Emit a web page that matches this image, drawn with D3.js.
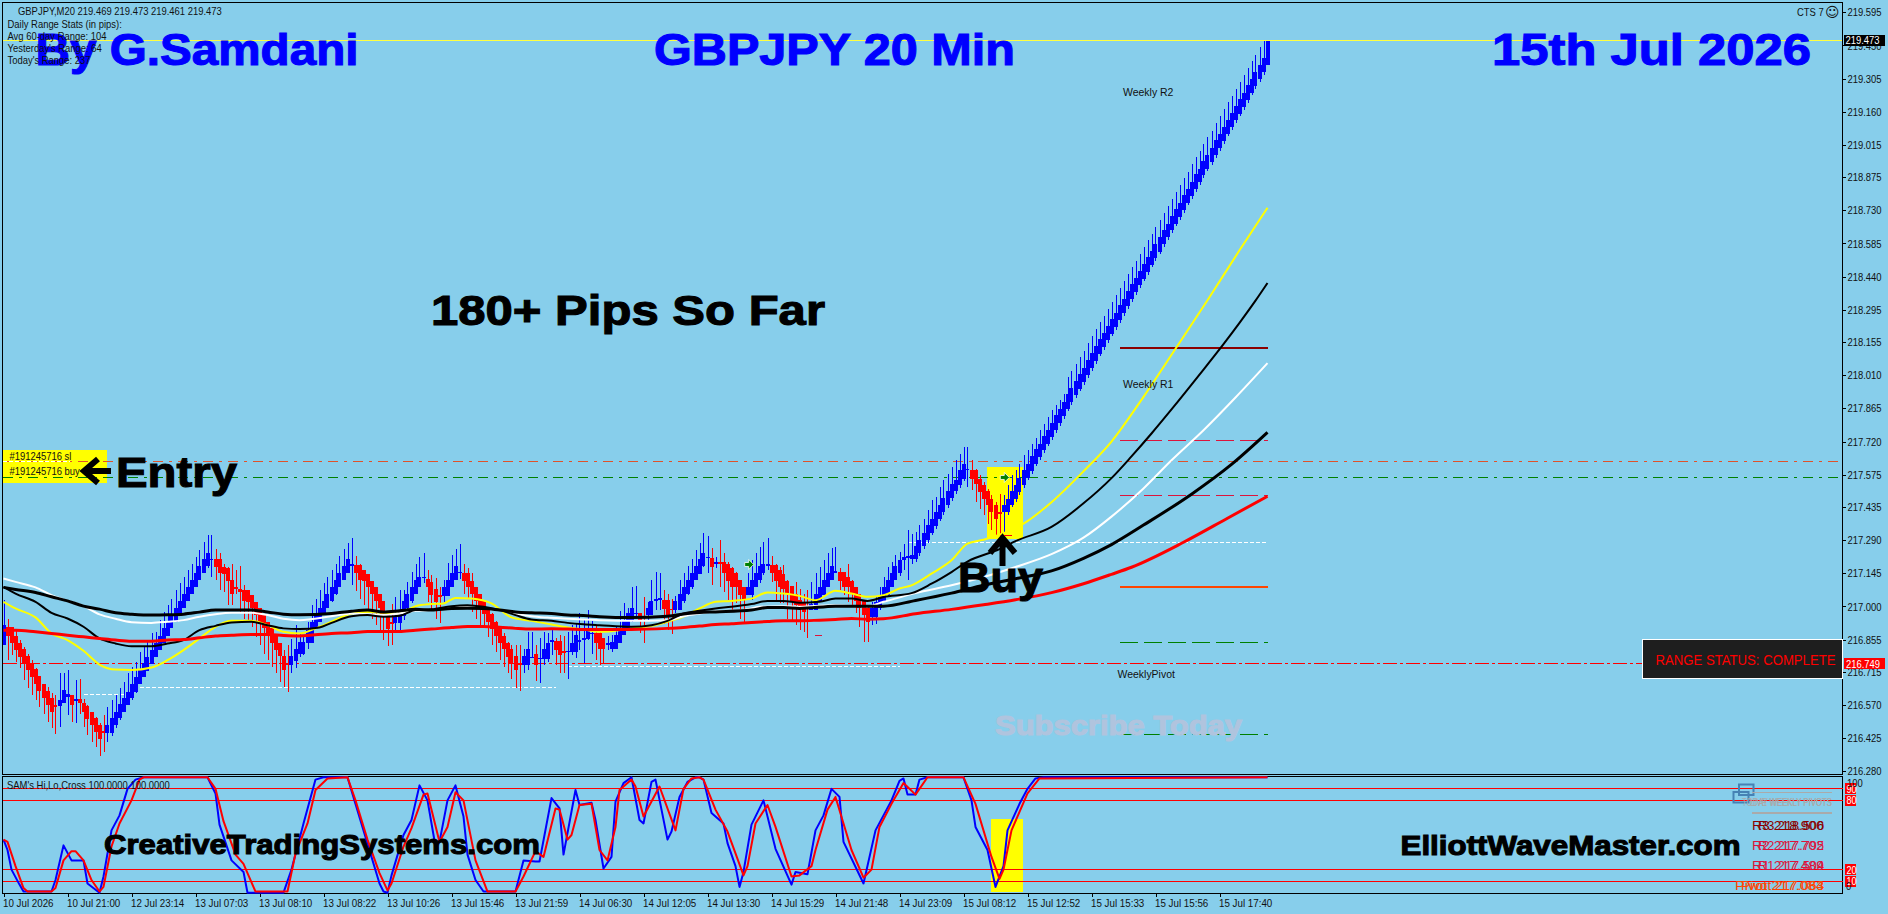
<!DOCTYPE html>
<html lang="en">
<head>
<meta charset="UTF-8">
<title>GBPJPY 20 Min</title>
<script src="https://d3js.org/d3.v7.min.js"></script>
<style>
  html, body { margin: 0; background: #87ceeb; overflow: hidden; }
  svg { display: block; }
  text { font-family: "Liberation Sans", sans-serif; font-size: 11.5px; fill: #111; }
  .big { font-family: "Liberation Sans", Arial, sans-serif; font-weight: bold; stroke-width: 1.1px; }
  .crisp { shape-rendering: crispEdges; }
</style>
</head>
<body>
<svg id="canvas" width="1888" height="914"></svg>
<script>
// 20 minute bars, left to right
const barOpen = [
  216.831,216.911,216.911,216.870,216.841,216.812,216.783,216.751,216.725,216.695,216.663,216.631,216.601,216.569,216.566,216.576,
  216.605,216.612,216.588,216.594,216.580,216.565,216.540,216.511,216.482,216.454,216.449,216.449,216.484,216.511,216.540,216.569,
  216.598,216.624,216.660,216.693,216.717,216.748,216.780,216.809,216.838,216.870,216.904,216.933,216.962,216.991,217.023,217.053,
  217.083,217.115,217.144,217.176,217.202,217.205,217.205,217.173,217.166,217.115,217.083,217.078,217.071,217.071,217.049,217.020,
  216.991,216.962,216.933,216.904,216.874,216.841,216.783,216.751,216.746,216.761,216.794,216.794,216.838,216.838,216.900,216.933,
  216.962,216.991,217.023,217.053,217.083,217.115,217.144,217.177,217.180,217.180,217.161,217.141,217.112,217.083,217.052,217.023,
  216.962,216.933,216.928,216.928,216.958,216.991,217.023,217.052,217.083,217.122,217.118,217.107,217.074,217.049,217.046,217.046,
  217.083,217.115,217.144,217.148,217.148,217.112,217.083,217.053,217.023,216.991,216.965,216.933,216.904,216.871,216.842,216.812,
  216.783,216.751,216.746,216.746,216.773,216.791,216.769,216.772,216.772,216.848,216.848,216.848,216.806,216.801,216.802,216.802,
  216.847,216.853,216.856,216.879,216.882,216.882,216.860,216.831,216.812,216.812,216.842,216.874,216.904,216.940,216.966,216.969,
  216.957,216.962,216.962,217.024,217.030,217.030,217.030,216.989,216.984,216.984,217.023,217.052,217.083,217.115,217.141,217.176,
  217.211,217.211,217.187,217.192,217.192,217.187,217.166,217.144,217.115,217.083,217.049,217.049,217.083,217.115,217.144,217.179,
  217.180,217.180,217.158,217.141,217.112,217.088,217.056,217.027,217.013,216.994,216.984,216.984,217.020,217.049,217.083,217.115,
  217.148,217.151,217.151,217.129,217.112,217.083,217.052,217.023,216.991,216.955,216.955,216.991,217.020,217.049,217.083,217.115,
  217.144,217.204,217.213,217.208,217.208,217.233,217.262,217.291,217.322,217.350,217.383,217.412,217.441,217.473,217.504,217.529,
  217.558,217.596,217.594,217.594,217.558,217.529,217.504,217.470,217.441,217.411,217.412,217.412,217.444,217.470,217.500,217.529,
  217.562,217.591,217.623,217.652,217.682,217.711,217.740,217.769,217.801,217.832,217.864,217.893,217.922,217.951,217.980,218.009,
  218.041,218.072,218.104,218.133,218.162,218.191,218.220,218.249,218.281,218.312,218.342,218.373,218.402,218.431,218.460,218.492,
  218.520,218.549,218.581,218.613,218.642,218.671,218.701,218.730,218.763,218.792,218.823,218.854,218.883,218.912,218.941,218.970,
  219.002,219.031,219.065,219.094,219.123,219.152,219.181,219.212,219.244,219.273,219.303,219.334,219.365
];
const barClose = [
  216.918,216.870,216.838,216.809,216.780,216.748,216.722,216.693,216.660,216.631,216.601,216.569,216.540,216.563,216.591,216.634,
  216.617,216.569,216.595,216.576,216.540,216.509,216.482,216.452,216.420,216.448,216.484,216.511,216.540,216.572,216.602,216.624,
  216.663,216.693,216.726,216.751,216.780,216.809,216.838,216.870,216.904,216.933,216.962,216.991,217.023,217.053,217.083,217.115,
  217.144,217.176,217.205,217.231,217.209,217.173,217.144,217.141,217.112,217.052,217.077,217.064,217.023,217.020,216.991,216.962,
  216.933,216.904,216.874,216.841,216.809,216.783,216.722,216.743,216.783,216.812,216.845,216.845,216.896,216.933,216.962,216.991,
  217.024,217.053,217.086,217.115,217.144,217.176,217.205,217.183,217.144,217.115,217.112,217.083,217.052,217.023,216.991,216.965,
  216.901,216.925,216.958,216.984,217.023,217.053,217.083,217.115,217.129,217.129,217.083,217.049,217.020,217.043,217.086,217.115,
  217.144,217.176,217.151,217.112,217.083,217.052,217.023,216.991,216.965,216.933,216.901,216.871,216.842,216.812,216.780,216.751,
  216.722,216.743,216.783,216.812,216.780,216.746,216.775,216.812,216.842,216.853,216.809,216.787,216.797,216.807,216.842,216.874,
  216.853,216.861,216.896,216.885,216.841,216.812,216.812,216.838,216.845,216.874,216.904,216.940,216.969,216.991,216.972,216.940,
  216.951,216.991,217.024,217.034,217.036,216.988,216.962,216.984,217.023,217.052,217.083,217.115,217.144,217.176,217.205,217.231,
  217.217,217.173,217.193,217.183,217.144,217.112,217.086,217.083,217.049,217.034,217.083,217.115,217.144,217.176,217.183,217.184,
  217.144,217.112,217.083,217.078,217.056,217.023,217.005,216.998,216.976,216.988,217.010,217.052,217.083,217.115,217.144,217.176,
  217.154,217.112,217.083,217.083,217.052,217.023,216.991,216.962,216.933,216.991,217.020,217.049,217.083,217.115,217.144,217.176,
  217.202,217.216,217.219,217.223,217.264,217.291,217.321,217.354,217.383,217.412,217.444,217.473,217.504,217.536,217.553,217.594,
  217.623,217.602,217.558,217.536,217.500,217.470,217.441,217.412,217.383,217.405,217.444,217.470,217.503,217.532,217.562,217.594,
  217.623,217.655,217.686,217.711,217.743,217.772,217.801,217.834,217.864,217.893,217.926,217.954,217.984,218.013,218.041,218.075,
  218.107,218.136,218.166,218.195,218.223,218.254,218.283,218.315,218.344,218.376,218.407,218.434,218.463,218.494,218.526,218.552,
  218.581,218.613,218.645,218.671,218.704,218.734,218.763,218.795,218.824,218.855,218.886,218.912,218.944,218.973,219.003,219.036,
  219.065,219.095,219.126,219.155,219.184,219.215,219.244,219.276,219.305,219.335,219.366,219.394,219.472
];
const barHigh = [
  217.027,216.947,216.904,216.896,216.853,216.824,216.794,216.765,216.729,216.693,216.656,216.649,216.620,216.612,216.707,216.710,
  216.722,216.612,216.678,216.681,216.594,216.569,216.540,216.518,216.491,216.525,216.562,216.591,216.612,216.642,216.671,216.707,
  216.736,216.758,216.802,216.824,216.853,216.882,216.889,216.940,216.976,217.005,217.034,217.071,217.100,217.129,217.158,217.187,
  217.217,217.246,217.282,217.311,217.311,217.249,217.231,217.187,217.173,217.187,217.158,217.176,217.093,217.071,217.027,217.020,
  216.991,216.962,216.933,216.896,216.867,216.831,216.809,216.831,216.856,216.918,216.882,216.874,216.933,217.005,217.034,217.071,
  217.100,217.129,217.158,217.187,217.219,217.249,217.278,217.297,217.219,217.187,217.158,217.129,217.093,217.056,217.027,216.998,
  216.976,217.010,217.042,217.071,217.071,217.107,217.151,217.187,217.217,217.235,217.158,217.136,217.122,217.086,217.115,217.190,
  217.224,217.249,217.272,217.187,217.166,217.144,217.078,217.049,217.027,216.998,216.969,216.937,216.904,216.882,216.845,216.831,
  216.831,216.831,216.816,216.889,216.889,216.831,216.860,216.889,216.882,216.904,216.860,216.874,216.870,216.889,216.918,216.925,
  216.969,216.940,216.984,216.937,216.918,216.889,216.864,216.870,216.874,216.911,216.979,217.013,216.991,217.083,217.088,216.969,
  217.042,217.020,217.115,217.151,217.148,217.071,217.056,217.034,217.045,217.115,217.144,217.176,217.209,217.246,217.278,217.321,
  217.307,217.253,217.217,217.289,217.231,217.195,217.173,217.151,217.086,217.056,217.144,217.202,217.231,217.260,217.282,217.297,
  217.219,217.187,217.173,217.180,217.115,217.078,217.107,217.078,217.056,217.071,217.107,217.144,217.173,217.202,217.231,217.253,
  217.260,217.166,217.151,217.187,217.115,217.086,217.056,217.020,216.998,217.020,217.042,217.086,217.129,217.173,217.195,217.224,
  217.238,217.274,217.332,217.318,217.325,217.354,217.383,217.420,217.463,217.478,217.521,217.551,217.577,217.609,217.638,217.667,
  217.696,217.696,217.638,217.602,217.572,217.543,217.514,217.485,217.456,217.492,217.485,217.529,217.572,217.594,217.623,217.660,
  217.682,217.711,217.737,217.769,217.798,217.827,217.856,217.878,217.900,217.929,218.000,218.030,218.060,218.088,218.116,218.150,
  218.182,218.211,218.242,218.270,218.298,218.330,218.358,218.390,218.420,218.451,218.482,218.510,218.538,218.569,218.601,218.628,
  218.657,218.688,218.720,218.747,218.779,218.809,218.838,218.870,218.899,218.930,218.961,218.987,219.019,219.048,219.078,219.111,
  219.140,219.170,219.201,219.230,219.259,219.290,219.319,219.351,219.380,219.410,219.441,219.470,219.473
];
const barLow = [
  216.831,216.765,216.787,216.758,216.729,216.678,216.642,216.612,216.591,216.562,216.532,216.496,216.467,216.442,216.474,216.591,
  216.525,216.496,216.491,216.532,216.474,216.438,216.409,216.387,216.346,216.365,216.409,216.435,216.467,216.503,216.540,216.569,
  216.591,216.620,216.663,216.693,216.722,216.758,216.787,216.824,216.853,216.882,216.918,216.947,216.976,217.005,217.034,217.064,
  217.093,217.122,217.151,217.166,217.129,217.115,217.071,217.064,217.005,217.005,217.056,216.969,216.947,216.940,216.911,216.867,
  216.831,216.794,216.765,216.736,216.707,216.671,216.646,216.627,216.707,216.729,216.780,216.787,216.816,216.867,216.904,216.940,
  216.962,216.991,217.020,217.049,217.086,217.115,217.144,217.093,217.067,217.034,217.005,216.976,216.947,216.918,216.896,216.853,
  216.826,216.831,216.896,216.896,216.940,216.976,217.013,217.056,217.086,217.103,217.020,216.984,216.947,216.928,217.020,217.056,
  217.086,217.115,217.118,217.056,217.034,216.976,216.947,216.918,216.904,216.867,216.831,216.802,216.765,216.736,216.707,216.685,
  216.644,216.631,216.707,216.722,216.773,216.675,216.667,216.743,216.758,216.787,216.743,216.707,216.707,216.681,216.787,216.773,
  216.809,216.751,216.853,216.794,216.768,216.743,216.751,216.809,216.802,216.831,216.860,216.882,216.896,216.933,216.955,216.882,
  216.838,216.940,216.969,216.984,216.984,216.925,216.896,216.879,216.969,216.998,217.013,217.049,217.078,217.115,217.144,217.173,
  217.144,217.093,217.166,217.086,217.064,217.027,216.984,217.013,216.943,216.933,217.049,217.027,217.086,217.100,217.136,217.158,
  217.107,217.020,217.013,217.013,216.947,216.940,216.918,216.896,216.889,216.860,216.984,217.013,217.042,217.078,217.115,217.144,
  217.144,217.071,217.049,217.020,217.005,216.969,216.911,216.845,216.845,216.918,216.925,216.984,217.020,217.042,217.093,217.115,
  217.132,217.157,217.114,217.187,217.196,217.221,217.250,217.279,217.310,217.338,217.371,217.400,217.429,217.461,217.492,217.517,
  217.546,217.521,217.507,217.456,217.427,217.398,217.361,217.332,217.310,217.303,217.325,217.400,217.432,217.458,217.488,217.517,
  217.550,217.579,217.611,217.640,217.670,217.699,217.728,217.757,217.789,217.820,217.852,217.881,217.910,217.939,217.968,217.997,
  218.029,218.060,218.092,218.121,218.150,218.179,218.208,218.237,218.269,218.300,218.330,218.361,218.390,218.419,218.448,218.480,
  218.508,218.537,218.569,218.601,218.630,218.659,218.689,218.718,218.751,218.780,218.811,218.842,218.871,218.900,218.929,218.958,
  218.990,219.019,219.053,219.082,219.111,219.140,219.169,219.200,219.232,219.261,219.291,219.322,219.365
];

// moving averages: bar number and price at each turning point
const whiteBars = [0,3,8,12,16,20,24,28,32,37,41,45,49,53,57,62,66,70,74,82,87,95,99,103,107,112,116,120,124,128,132,136,140,149,157,166,170,174,178,185,189,195,199,207,216,220,228,237,245,253,262,270,277,285,292,300,308,316];
const whiteVals = [217.122,217.107,217.083,217.049,217.024,217.001,216.965,216.946,216.931,216.928,216.933,216.940,216.955,216.966,216.972,216.972,216.962,216.946,216.940,216.957,216.969,216.962,216.969,216.981,216.984,216.995,216.998,216.991,216.984,216.969,216.957,216.951,216.947,216.940,216.937,216.940,216.957,216.969,216.979,216.984,216.998,217.001,216.998,217.005,217.001,217.020,217.058,217.092,217.128,217.172,217.228,217.300,217.392,217.515,217.638,217.769,217.912,218.062];
const thinBlackBars = [0,3,8,12,16,20,24,28,32,37,41,45,49,53,57,62,66,70,74,79,82,87,91,95,99,103,107,112,116,120,124,128,132,137,141,145,149,157,162,166,170,174,178,182,187,191,195,199,204,208,212,216,220,227,232,237,241,249,253,262,270,277,282,287,292,299,305,309,313,316];
const thinBlackVals = [217.085,217.056,217.020,216.972,216.947,216.911,216.860,216.838,216.826,216.826,216.838,216.853,216.896,216.915,216.930,216.933,216.918,216.904,216.901,216.908,216.928,216.957,216.962,216.955,216.959,216.984,216.987,217.001,217.005,216.998,216.984,216.962,216.943,216.937,216.928,216.922,216.918,216.911,216.918,216.937,216.969,216.981,216.991,216.998,217.010,217.024,217.024,217.016,217.020,217.034,217.034,217.024,217.041,217.058,217.099,217.150,217.196,217.250,217.285,217.347,217.450,217.560,217.655,217.755,217.860,218.012,218.145,218.238,218.335,218.412];
const thickBlackBars = [0,3,8,12,16,20,24,28,32,37,41,45,49,53,57,62,66,70,74,82,87,91,95,99,103,107,112,116,120,124,128,132,137,141,145,149,157,166,171,174,178,187,191,195,199,208,216,220,228,237,245,253,262,270,277,285,297,307,316];
const thickBlackVals = [217.083,217.074,217.061,217.042,217.024,217.001,216.988,216.972,216.966,216.962,216.963,216.966,216.975,216.984,216.984,216.984,216.976,216.966,216.963,216.969,216.979,216.984,216.976,216.981,216.987,216.984,216.991,216.992,216.991,216.984,216.976,216.972,216.969,216.962,216.960,216.955,216.951,216.957,216.969,216.973,216.976,216.984,216.995,216.995,216.991,217.001,217.001,217.001,217.026,217.058,217.092,217.121,217.155,217.210,217.270,217.355,217.490,217.620,217.760];
const yellowBars = [0,3,8,12,16,20,24,28,32,37,41,45,49,53,57,62,66,70,74,78,82,87,91,99,103,107,110,113,117,122,127,132,137,141,145,149,157,162,166,170,174,178,182,187,191,195,199,203,208,212,216,220,224,227,232,237,241,245,255,262,270,277,285,293,301,309,316];
const yellowVals = [217.020,216.991,216.952,216.882,216.853,216.806,216.746,216.724,216.722,216.733,216.765,216.809,216.860,216.911,216.937,216.937,216.918,216.889,216.882,216.904,216.933,216.969,216.976,216.969,217.001,217.010,217.013,217.037,217.034,217.013,216.952,216.937,216.921,216.908,216.899,216.889,216.904,216.915,216.933,216.955,216.991,217.020,217.024,217.034,217.061,217.056,217.046,217.027,217.068,217.056,217.042,217.049,217.078,217.092,217.143,217.201,217.274,217.291,217.361,217.455,217.590,217.720,217.915,218.125,218.337,218.555,218.741];
const redBars = [0,3,8,12,16,20,24,28,32,37,41,45,49,53,57,62,66,70,74,82,87,91,99,103,107,112,116,120,124,128,132,137,141,145,149,157,166,170,174,178,182,187,191,195,199,204,208,212,216,220,228,237,245,253,262,270,277,282,295,306,316];
const redVals = [216.896,216.896,216.889,216.882,216.874,216.867,216.860,216.853,216.848,216.848,216.853,216.855,216.863,216.871,216.874,216.877,216.877,216.873,216.871,216.882,216.885,216.890,216.890,216.896,216.901,216.908,216.912,216.912,216.909,216.904,216.901,216.902,216.901,216.899,216.899,216.899,216.904,216.908,216.914,216.921,216.924,216.930,216.934,216.937,216.937,216.940,216.943,216.947,216.944,216.946,216.968,216.987,217.007,217.029,217.060,217.099,217.140,217.171,217.280,217.385,217.481];

// SAM's Hi,Lo,Cross sub window
const samBlueBars = [0,1,2,4,5,12,13,15,17,20,21,24,25,27,29,31,33,35,51,53,54,57,60,61,70,72,75,78,80,86,88,90,94,95,96,97,100,102,104,106,108,109,111,113,115,116,118,120,128,130,133,134,137,139,140,143,144,147,148,150,152,153,155,157,159,160,162,163,166,167,169,171,173,174,175,177,180,181,183,184,185,187,190,193,197,198,201,203,205,207,209,210,215,218,222,224,225,226,228,229,231,240,242,243,246,248,250,251,254,256,258,260,316];
const samBlueVals = [46,37,20,7,1,1,11,41,28,28,8,0,14,54,67,90,98,100,100,86,59,28,18,0,0,20,60,98,100,100,77,54,8,1,0,15,50,63,93,80,40,44,80,93,66,33,11,1,1,28,27,27,82,73,33,89,76,78,63,21,31,79,95,100,63,60,96,98,46,53,83,96,100,100,98,69,60,43,23,5,18,59,80,38,7,18,16,54,67,90,83,44,8,54,80,97,99,85,85,98,100,100,80,57,37,5,23,54,77,90,99,100,100];
const samRedBars = [0,1,3,5,6,12,13,15,17,18,20,22,24,25,27,29,32,34,35,51,53,55,58,60,63,71,73,76,78,81,86,88,91,94,96,97,100,102,105,106,109,111,113,115,118,121,128,130,133,135,138,139,141,142,144,147,149,151,153,154,157,158,160,164,168,170,172,174,175,178,181,183,185,186,188,191,193,197,199,202,203,206,208,212,215,217,219,222,225,228,231,240,243,247,249,250,252,256,259,316];
const samRedVals = [46,44,23,4,1,1,4,28,36,36,28,11,1,5,40,60,80,98,100,100,90,62,33,25,1,1,34,60,89,99,100,80,46,17,2,8,40,56,85,86,44,57,87,80,28,1,1,14,36,31,73,72,46,50,76,77,37,28,57,89,98,92,66,92,54,90,99,100,98,72,53,34,15,23,60,76,57,14,15,23,37,72,83,37,13,20,57,77,95,85,100,100,77,31,12,20,54,86,99,100];
const samLevels = [90, 80, 20, 10];

// horizontal levels
const bidPrice = 219.473;
const lastRedPrice = 216.749;
const stopPrice = 217.633;
const entryPrice = 217.563;
const pivotBars = [279, 316];
const r3Price = 218.129, r2Price = 217.724, r1Price = 217.484;
const pivotPrice = 217.085, s1Price = 216.842, s2Price = 216.440;
const whiteLevels = [216.615, 216.646, 216.739, 217.279];
const whiteLevelBars = [[20, 31], [34, 138], [141, 224], [226, 316]];

// axis labels
const priceTicks = [219.595,219.450,219.305,219.160,219.015,218.875,218.730,218.585,218.440,218.295,218.155,218.010,217.865,217.720,217.575,217.435,217.290,217.145,217.000,216.855,216.715,216.570,216.425,216.280];
const timeBars = [0,16,32,48,64,80,96,112,128,144,160,176,192,208,224,240,256,272,288,304];
const timeLabels = ["10 Jul 2026","10 Jul 21:00","12 Jul 23:14","13 Jul 07:03","13 Jul 08:10","13 Jul 08:22","13 Jul 10:26","13 Jul 15:46","13 Jul 21:59","14 Jul 06:30","14 Jul 12:05","14 Jul 13:30","14 Jul 15:29","14 Jul 21:48","14 Jul 23:09","15 Jul 08:12","15 Jul 12:52","15 Jul 15:33","15 Jul 15:56","15 Jul 17:40"];

const svg = d3.select("#canvas");
const axisX = 1842.5, topY = 2.5, mainBottom = 774.5, subTop = 776.5, subBottom = 893.5;

const x = d3.scaleLinear().domain([0, 316]).range([3.5, 1267.5]);
const y = d3.scaleLinear().domain([219.648, 219.648 - 774 / 229]).range([0, 774]);
const ySam = d3.scaleLinear().domain([0, 100]).range([892.7, 777.3]);

const gridLayer = svg.append("g");

// yellow highlight boxes sit behind everything
gridLayer.append("rect").attr("x", x(245.8)).attr("width", x(254.8) - x(245.8))
  .attr("y", y(217.61)).attr("height", y(217.293) - y(217.61)).attr("fill", "#ffff00").attr("class", "crisp");
gridLayer.append("rect").attr("x", x(246.9)).attr("width", x(254.8) - x(246.9))
  .attr("y", ySam(64)).attr("height", ySam(0.8) - ySam(64)).attr("fill", "#ffff00").attr("class", "crisp");
gridLayer.append("rect").attr("x", 3).attr("y", 450).attr("width", 104).attr("height", 33)
  .attr("fill", "#ffff00").attr("class", "crisp");

function hline(sel, price, x1, x2, color, width, dash) {
  sel.append("line").attr("x1", x1).attr("x2", x2).attr("y1", y(price)).attr("y2", y(price))
    .attr("stroke", color).attr("stroke-width", width).attr("stroke-dasharray", dash || null).attr("class", "crisp");
}

hline(gridLayer, stopPrice, 3, axisX, "#e0522a", 1, "10,6,3,6");
hline(gridLayer, entryPrice, 3, axisX, "#008000", 1, "10,6,3,6");
hline(gridLayer, lastRedPrice, 3, 1642, "#ff0000", 1, "14,3,3,3");
gridLayer.append("line").attr("x1", 3).attr("x2", 70).attr("y1", 461.5).attr("y2", 461.5)
  .attr("stroke", "#fff").attr("class", "crisp").attr("stroke-dasharray", "4,2");

whiteLevels.forEach((p, i) => hline(gridLayer, p, x(whiteLevelBars[i][0]), x(whiteLevelBars[i][1]), "#ffffff", 1, "4,2"));

hline(gridLayer, r3Price, x(pivotBars[0]), x(pivotBars[1]), "#8b0000", 2);
hline(gridLayer, r2Price, x(pivotBars[0]), x(pivotBars[1]), "#dc143c", 1, "18,6");
hline(gridLayer, r1Price, x(pivotBars[0]), x(pivotBars[1]), "#dc143c", 1, "18,6");
hline(gridLayer, pivotPrice, x(pivotBars[0]), x(pivotBars[1]), "#ff4500", 2);
hline(gridLayer, s1Price, x(pivotBars[0]), x(pivotBars[1]), "#008000", 1, "18,6");
hline(gridLayer, s2Price, x(pivotBars[0]), x(pivotBars[1]), "#008000", 1, "18,6");

// bars: wick first, then body
const barColor = i => barClose[i] >= barOpen[i] ? "#0000ff" : "#ff0000";
const bars = svg.append("g").attr("class", "crisp").selectAll("g").data(d3.range(barOpen.length)).enter().append("g");
bars.append("rect")
  .attr("x", i => Math.round(x(i)))
  .attr("width", 1)
  .attr("y", i => y(barHigh[i]))
  .attr("height", i => Math.max(1, y(barLow[i]) - y(barHigh[i])))
  .attr("fill", barColor);
bars.append("rect")
  .attr("x", i => Math.round(x(i)) - 2)
  .attr("width", 4)
  .attr("y", i => y(Math.max(barOpen[i], barClose[i])))
  .attr("height", i => Math.max(1.5, Math.abs(y(barOpen[i]) - y(barClose[i]))))
  .attr("fill", barColor);

// moving averages
function series(xs, ys, scale, color, width, curve) {
  const line = d3.line().x(i => x(xs[i])).y(i => scale(ys[i])).curve(curve || d3.curveLinear);
  svg.append("path").attr("d", line(d3.range(xs.length)))
    .attr("fill", "none").attr("stroke", color).attr("stroke-width", width)
    .attr("stroke-linejoin", "round");
}
series(yellowBars, yellowVals, y, "#ffff00", 2, d3.curveMonotoneX);
series(whiteBars, whiteVals, y, "#ffffff", 2, d3.curveMonotoneX);
series(thinBlackBars, thinBlackVals, y, "#000000", 2, d3.curveMonotoneX);
series(thickBlackBars, thickBlackVals, y, "#000000", 3, d3.curveMonotoneX);
series(redBars, redVals, y, "#ff0000", 3, d3.curveMonotoneX);

hline(svg, bidPrice, 3, axisX, "#ffff40", 1);

// frames
svg.append("rect").attr("x", 2.5).attr("y", topY).attr("width", axisX - 2.5).attr("height", mainBottom - topY)
  .attr("fill", "none").attr("stroke", "#000").attr("class", "crisp");
svg.append("rect").attr("x", 2.5).attr("y", subTop).attr("width", axisX - 2.5).attr("height", subBottom - subTop)
  .attr("fill", "none").attr("stroke", "#000").attr("class", "crisp");

// sub window
samLevels.forEach(v => {
  svg.append("line").attr("x1", 3).attr("x2", axisX).attr("y1", ySam(v)).attr("y2", ySam(v))
    .attr("stroke", "#ff0000").attr("class", "crisp");
});
series(samBlueBars, samBlueVals, ySam, "#0000ff", 2);
series(samRedBars, samRedVals, ySam, "#ff0000", 2);

// axes
const priceAxis = svg.append("g").attr("transform", `translate(${axisX},0)`)
  .call(d3.axisRight(y).tickValues(priceTicks).tickFormat(d3.format(".3f")).tickSize(3).tickPadding(2));
priceAxis.select(".domain").remove();
priceAxis.selectAll("line").attr("stroke", "#000").attr("class", "crisp");
priceAxis.selectAll("text").style("font-size", "11.5px").style("font-family", null).attr("fill", "#111");

const timeAxis = svg.append("g").attr("transform", `translate(0,${subBottom})`)
  .call(d3.axisBottom(x).tickValues(timeBars).tickFormat((d, i) => timeLabels[i]).tickSize(3).tickPadding(2));
timeAxis.select(".domain").remove();
timeAxis.selectAll("line").attr("stroke", "#000").attr("class", "crisp");
timeAxis.selectAll("text").attr("text-anchor", "start").attr("dx", -1).style("font-size", "11.5px").style("font-family", null).attr("fill", "#111");

function label(tx, ty, s, opts) {
  opts = opts || {};
  const t = svg.append("text").attr("x", tx).attr("y", ty).text(s);
  if (opts.big) t.attr("class", "big").style("stroke", opts.fill);
  if (opts.size) t.style("font-size", opts.size + "px");
  if (opts.fill) t.style("fill", opts.fill);
  if (opts.family) t.style("font-family", opts.family);
  if (opts.anchor) t.attr("text-anchor", opts.anchor);
  if (opts.len) t.attr("textLength", opts.len).attr("lengthAdjust", "spacingAndGlyphs");
  return t;
}

// big captions
label(35.5, 65, "By G.Samdani", { big: 1, size: 45, fill: "#0000ff", len: 323 });
label(654, 65, "GBPJPY 20 Min", { big: 1, size: 45, fill: "#0000ff", len: 361 });
label(1492, 65, "15th Jul 2026", { big: 1, size: 45, fill: "#0000ff", len: 319 });
label(431, 325, "180+ Pips So Far", { big: 1, size: 43, fill: "#000", len: 394 });
label(116, 487, "Entry", { big: 1, size: 43, fill: "#000", len: 121 });
label(958, 592, "Buy", { big: 1, size: 43, fill: "#000", len: 85 });
label(104, 854, "CreativeTradingSystems.com", { big: 1, size: 28, fill: "#000", len: 436 });
label(1400.5, 855, "ElliottWaveMaster.com", { big: 1, size: 28, fill: "#000", len: 340 });
label(995, 735, "Subscribe Today", { big: 1, size: 28, fill: "#b0c4de", len: 247 });

// arrows next to Entry and Buy
svg.append("path").attr("d", "M111 471H88M98 459L84 471L98 483").attr("fill", "none").attr("stroke", "#000").attr("stroke-width", 6);
svg.append("path").attr("d", "M1002.5 566V540M990 553L1002.5 538L1015 553").attr("fill", "none").attr("stroke", "#000").attr("stroke-width", 6);

// trade markers
function tradeArrow(bar, price) {
  svg.append("path").attr("transform", `translate(${x(bar)},${y(price)})`)
    .attr("d", "M-4 -2H0V-5L5 0L0 5V2H-4Z").attr("fill", "#008000").attr("stroke", "#fff").attr("stroke-width", 0.8);
}
tradeArrow(186.3, 217.183);
tradeArrow(250.2, 217.563);
hline(svg, 216.874, x(202.8), x(204.6), "#dc143c", 1);
hline(svg, 217.308, x(250.1), x(252.2), "#ff0000", 1);

// small text
label(18, 14.5, "GBPJPY,M20  219.469 219.473 219.461 219.473");
label(7.5, 28, "Daily Range Stats (in pips):");
label(7.5, 40, "Avg 60-day Range: 104");
label(7.5, 52, "Yesterday's Range: 64");
label(7.5, 64, "Today's Range: 237");
label(1797, 16, "CTS 7");
label(1825, 17, "\u263A", { size: 14, family: "DejaVu Sans" });
label(9.5, 459.5, "#191245716 sl");
label(9.5, 475, "#191245716 buy");
label(7, 789, "SAM's Hi,Lo,Cross 100.0000 100.0000");
label(1123, 96, "Weekly R2").attr("class", "wk");
label(1123, 388, "Weekly R1").attr("class", "wk");
label(1117.5, 678, "WeeklyPivot").attr("class", "wk");

// price flags
function flag(x0, x1, cy, h, color, s, size) {
  svg.append("rect").attr("x", x0).attr("width", x1 - x0).attr("y", cy - h / 2).attr("height", h)
    .attr("fill", color).attr("class", "crisp");
  label(x0 + 2, cy + 4, s, { fill: "#fff", size: size || 11.5 });
}
flag(1843.5, 1885, y(bidPrice), 11, "#000", "219.473");
flag(1844, 1885, y(lastRedPrice), 11, "#ff0000", "216.749");
samLevels.forEach(v => flag(1844.5, 1856, ySam(v), 11, "#ff0000", String(v), 11));
label(1847, 787, "100");
label(1846, 890, "0");

// range status box
svg.append("rect").attr("x", 1642.5).attr("y", 639.5).attr("width", 200).attr("height", 39)
  .attr("fill", "#1e1e1e").attr("stroke", "#fff").attr("class", "crisp");
label(1655.5, 665, "RANGE STATUS: COMPLETE", { fill: "#ff0000", size: 14, len: 180 });

// pivot panel in the sub window
svg.append("rect").attr("x", 1739).attr("y", 784.5).attr("width", 14.5).attr("height", 10.5)
  .attr("fill", "none").attr("stroke", "#4682b4").attr("stroke-width", 2);
svg.append("rect").attr("x", 1733.5).attr("y", 792).attr("width", 15).attr("height", 10.5)
  .attr("fill", "none").attr("stroke", "#4682b4").attr("stroke-width", 2);
svg.append("line").attr("x1", 1752).attr("x2", 1832).attr("y1", 792.5).attr("y2", 792.5).attr("stroke", "#aaa").attr("class", "crisp");
svg.append("line").attr("x1", 1752).attr("x2", 1832).attr("y1", 812.5).attr("y2", 812.5).attr("stroke", "#aaa").attr("stroke-width", 2).attr("class", "crisp");
label(1742, 806, "TODAY WEEKLY PIVOTS", { fill: "#aaa", size: 10.5, len: 90 });
label(1750, 806, "LIVE WEEKLY PIVOTS", { fill: "#aaa", size: 10.5, len: 82 });

const panelRows = [
  ["R3 218.900", "R3 218.506", "#8b0000", 830],
  ["R2 217.702", "R2 217.795", "#dc143c", 850],
  ["R1 217.489", "R1 217.504", "#dc143c", 870],
  ["Pivot 217.084", "Pivot 217.063", "#ff4500", 890]
];
panelRows.forEach(r => {
  const left = r[0].startsWith("Pivot") ? 1735 : 1752;
  label(left, r[3], r[0], { fill: r[2], size: 13.5, len: 1824 - left });
  label(left + 6, r[3], r[1], { fill: r[2], size: 13.5, len: 1824 - left - 6 });
});

// the platform font is narrower than anything installed, so pull the small text in
svg.selectAll("text").each(function () {
  if (this.hasAttribute("textLength") || this.textContent === "\u263A") return;
  const wk = this.getAttribute("class") === "wk";
  const inTime = this.parentNode.parentNode === timeAxis.node();
  const k = wk ? 0.91 : inTime ? 0.85 : 0.82;
  this.setAttribute("textLength", this.getComputedTextLength() * k);
  this.setAttribute("lengthAdjust", "spacingAndGlyphs");
});
</script>
</body>
</html>
